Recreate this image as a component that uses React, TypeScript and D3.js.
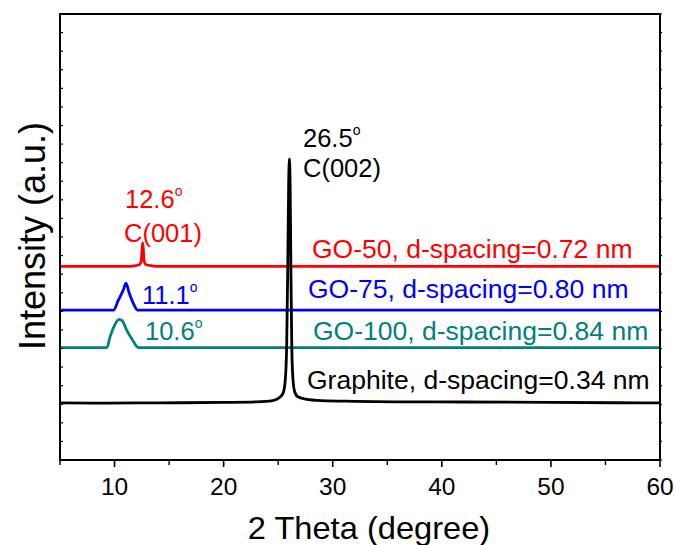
import React from "react";
import * as d3 from "d3";

// ---- data (2θ in degrees, intensity in arbitrary units) ----
const graphite: [number, number][] = [
  [5, 3.07], [8, 3.06], [12, 3.07], [16, 3.08], [20, 3.1], [23, 3.13], [24.5, 3.2],
  [25.1, 3.35], [25.45, 3.6], [25.65, 4.3], [25.78, 6.2], [25.88, 10.5], [25.96, 14.8],
  [26.03, 16.2], [26.1, 14.6], [26.17, 10.0], [26.25, 6.0], [26.35, 4.4], [26.5, 3.7],
  [26.8, 3.4], [27.5, 3.28], [29, 3.2], [32, 3.16], [36, 3.13], [42, 3.12], [50, 3.1],
  [56, 3.08], [60, 3.07],
];
const go100: [number, number][] = [
  [5, 6.05], [8, 6.05], [9.3, 6.05], [9.6, 6.65], [10.0, 7.25], [10.4, 7.57], [10.7, 7.5],
  [11.1, 7.0], [11.6, 6.5], [12.2, 6.05], [14, 6.05], [20, 6.05], [30, 6.05], [40, 6.05],
  [50, 6.05], [60, 6.05],
];
const go75: [number, number][] = [
  [5, 8.07], [8, 8.07], [9.9, 8.07], [10.35, 8.6], [10.8, 9.15], [11.05, 9.51], [11.35, 8.97],
  [11.72, 8.43], [12.1, 8.07], [14, 8.07], [20, 8.07], [30, 8.07], [40, 8.07], [50, 8.07],
  [60, 8.07],
];
const go50: [number, number][] = [
  [5, 10.42], [8, 10.42], [11.0, 10.42], [11.8, 10.45], [12.3, 10.52], [12.45, 10.72],
  [12.52, 11.3], [12.58, 11.68], [12.64, 11.3], [12.7, 10.72], [12.85, 10.52], [13.4, 10.45],
  [14.2, 10.42], [20, 10.42], [30, 10.42], [40, 10.42], [50, 10.42], [60, 10.42],
];
const seriesNames = [
  "GO-50, d-spacing=0.72 nm",
  "GO-75, d-spacing=0.80 nm",
  "GO-100, d-spacing=0.84 nm",
  "Graphite, d-spacing=0.34 nm",
];
const xTickLabels = [10, 20, 30, 40, 50, 60];
const xMinorTicks = [5, 15, 25, 35, 45, 55];
const yTicks = d3.range(0, 25, 1);
const xTitle = "2 Theta (degree)";
const yTitle = "Intensity (a.u.)";

const W = 675;
const H = 545;
const M = { left: 60, right: 660, top: 14, bottom: 460 };
const SX = 1.02;
const FONT = "'Liberation Sans', Arial, Helvetica, sans-serif";

function Txt({ x, y, size, color = "#000", anchor = "start", children }: any) {
  return (
    <text
      transform={`translate(${x},${y}) scale(${SX},1)`}
      fontSize={size}
      fill={color}
      textAnchor={anchor}
      fontFamily={FONT}
    >
      {children}
    </text>
  );
}

function Deg({ x, y, size, color, text }: any) {
  return (
    <text
      transform={`translate(${x},${y}) scale(${SX},1)`}
      fontSize={size}
      fill={color}
      fontFamily={FONT}
    >
      {text}
      <tspan fontSize={size * 0.55} dy={-size * 0.48}>o</tspan>
    </text>
  );
}

export default function App() {
  const x = d3.scaleLinear().domain([5, 60]).range([M.left, M.right]);
  const y = d3.scaleLinear().domain([0, 24]).range([M.bottom, M.top]);
  const line = d3
    .line<[number, number]>()
    .x((d) => x(d[0]))
    .y((d) => y(d[1]))
    .curve(d3.curveMonotoneX);

  const lw = 2.8;
  return (
    <svg
      width={W}
      height={H}
      style={{ position: "absolute", left: 0, top: 0, background: "#fff" }}
    >
      <defs>
        <clipPath id="plot">
          <rect x={M.left} y={M.top} width={M.right - M.left} height={M.bottom - M.top} />
        </clipPath>
      </defs>
      <g clipPath="url(#plot)">
        <path d={line(go100) || ""} fill="none" stroke="#008080" strokeWidth={lw} />
        <path d={line(go75) || ""} fill="none" stroke="#0000FF" strokeWidth={lw} />
        <path d={line(go50) || ""} fill="none" stroke="#FF0000" strokeWidth={lw} />
        <path d={line(graphite) || ""} fill="none" stroke="#000" strokeWidth={lw} />
      </g>

      {/* frame */}
      <rect
        x={M.left}
        y={M.top}
        width={M.right - M.left}
        height={M.bottom - M.top}
        fill="none"
        stroke="#000"
        strokeWidth={2}
      />
      {/* y ticks */}
      {yTicks.map((t) => (
        <g key={"y" + t}>
          <line x1={M.left} x2={M.left + 3} y1={y(t)} y2={y(t)} stroke="#000" strokeWidth={1.2} />
          <line x1={M.right} x2={M.right + 2} y1={y(t)} y2={y(t)} stroke="#000" strokeWidth={1.2} />
        </g>
      ))}
      {/* x ticks */}
      {xTickLabels.map((t) => (
        <g key={"x" + t}>
          <line x1={x(t)} x2={x(t)} y1={M.bottom} y2={M.bottom + 7} stroke="#000" strokeWidth={1.6} />
          <Txt x={x(t)} y={495} size={24} anchor="middle">
            {t}
          </Txt>
        </g>
      ))}
      {xMinorTicks.map((t) => (
        <line key={"m" + t} x1={x(t)} x2={x(t)} y1={M.bottom} y2={M.bottom + 5} stroke="#000" strokeWidth={1.4} />
      ))}

      {/* axis titles */}
      <Txt x={369} y={539} size={32} anchor="middle">
        {xTitle}
      </Txt>
      <text
        transform={`translate(45,236) rotate(-90)`}
        fontSize={36}
        textAnchor="middle"
        fontFamily={FONT}
      >
        {yTitle}
      </text>

      {/* peak annotations */}
      <Deg x={303} y={147} size={25} color="#000" text="26.5" />
      <Txt x={303} y={177} size={25}>C(002)</Txt>
      <Deg x={125} y={208} size={25} color="#FF0000" text="12.6" />
      <Txt x={124} y={242} size={25} color="#FF0000">C(001)</Txt>
      <Deg x={142} y={304} size={25} color="#0000FF" text="11.1" />
      <Deg x={145} y={340} size={25} color="#008080" text="10.6" />

      {/* series labels */}
      <Txt x={312} y={258} size={26} color="#FF0000">{seriesNames[0]}</Txt>
      <Txt x={308} y={298} size={26} color="#0000FF">{seriesNames[1]}</Txt>
      <Txt x={313} y={340} size={26} color="#008080">{seriesNames[2]}</Txt>
      <Txt x={307} y={389} size={26} color="#000">{seriesNames[3]}</Txt>
    </svg>
  );
}
